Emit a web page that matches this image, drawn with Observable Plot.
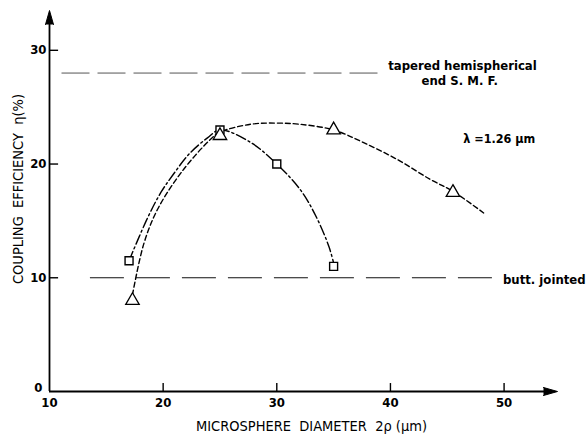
<!DOCTYPE html>
<html>
<head>
<meta charset="utf-8">
<script src="https://cdn.jsdelivr.net/npm/d3@7"></script>
<script src="https://cdn.jsdelivr.net/npm/@observablehq/plot@0.6"></script>
<style>
  html, body { margin: 0; padding: 0; background: #fff; }
  svg { display: block; }
</style>
</head>
<body>
<div id="chart"></div>
<script>
// ---- data ----
const xTicks = [10, 20, 30, 40, 50];
const yTicks = [0, 10, 20, 30];

// measured points (squares / triangles)
const sqD   = [17, 25, 30, 35];
const sqEta = [11.5, 23, 20, 11];
const triD   = [17.3, 25, 35, 45.5];
const triEta = [8, 22.5, 23, 17.5];

// hand-drawn fitted curves
const sqCurveD   = [17, 18.6, 19.8, 20.9, 22.3, 23.9, 25, 27.7, 30, 32.1, 33.5, 34.6, 35];
const sqCurveEta = [11.5, 15.2, 17.5, 19.1, 20.9, 22.3, 23, 21.9, 20, 17.7, 15.3, 12.7, 11.3];
const triCurveD   = [17.3, 18.3, 19.5, 21.7, 24.2, 25, 27.7, 30, 32, 35, 37.6, 40.6, 43.5, 45.5, 48.2];
const triCurveEta = [8.5, 13, 16, 19.4, 22.2, 22.8, 23.5, 23.6, 23.5, 23, 21.9, 20.4, 18.65, 17.6, 15.7];

// horizontal reference levels
const taperedEta = 28, taperedFrom = 11.1, taperedTo = 39.4;
const buttEta = 10, buttFrom = 13.6, buttTo = 49.9;

const xLabel = "MICROSPHERE  DIAMETER  2ρ (μm)";
const yLabel = "COUPLING  EFFICIENCY  η(%)";

// ---- build ----
const font = "DejaVu Sans Condensed";
const sq = sqD.map((d, i) => ({d, eta: sqEta[i]}));
const tri = triD.map((d, i) => ({d, eta: triEta[i]}));
const sqCurve = sqCurveD.map((d, i) => ({d, eta: sqCurveEta[i]}));
const triCurve = triCurveD.map((d, i) => ({d, eta: triCurveEta[i]}));

const txt = {fontFamily: font, fontWeight: "bold", fill: "#000"};

const chart = Plot.plot({
  width: 588,
  height: 434,
  marginLeft: 49,
  marginRight: 31,
  marginTop: 10,
  marginBottom: 43,
  style: {fontFamily: font, background: "#fff", color: "#000"},
  x: {domain: [10, 54.7]},
  y: {domain: [0, 33.5]},
  marks: [
    // reference lines
    Plot.ruleY([taperedEta], {x1: taperedFrom, x2: taperedTo, stroke: "#555", strokeWidth: 1, strokeDasharray: "28,8"}),
    Plot.ruleY([buttEta], {x1: buttFrom, x2: buttTo, stroke: "#111", strokeWidth: 1.1, strokeDasharray: "34,12"}),
    // curves
    Plot.line(sqCurve, {x: "d", y: "eta", curve: "catmull-rom", stroke: "#000", strokeWidth: 1.4, strokeDasharray: "10,3,2,3"}),
    Plot.line(triCurve, {x: "d", y: "eta", curve: "catmull-rom", stroke: "#000", strokeWidth: 1.4, strokeDasharray: "5,3"}),
    // markers
    Plot.dot(sq, {x: "d", y: "eta", symbol: "square", r: 4.5, fill: "#fff", stroke: "#000", strokeWidth: 1.4}),
    Plot.dot(tri, {x: "d", y: "eta", symbol: "triangle", r: 5, fill: "#fff", stroke: "#000", strokeWidth: 1.3}),
    // axes lines
    Plot.ruleY([0], {x1: 10, x2: 54, stroke: "#000", strokeWidth: 1.8}),
    Plot.ruleX([10], {y1: 0, y2: 33, stroke: "#000", strokeWidth: 1.8}),
    Plot.vector([{x: 54.7, y: 0, rot: 90}, {x: 10, y: 33.5, rot: 0}], {
      x: "x", y: "y", rotate: "rot", length: 14, r: 4, shape: "spike", anchor: "end",
      fill: "#000", stroke: "#000", strokeWidth: 1
    }),
    // inward ticks
    Plot.ruleX(xTicks.filter(v => v > 10), {y1: 0, y2: 0.7, stroke: "#000", strokeWidth: 1.4}),
    Plot.ruleY(yTicks.filter(v => v > 0), {x1: 10, x2: 10.8, stroke: "#000", strokeWidth: 1.4}),
    // tick labels
    Plot.axisX({ticks: xTicks, tickSize: 0, tickPadding: 6, fontSize: 13, ...txt, label: null}),
    Plot.axisY({ticks: yTicks.filter(v => v > 0), tickSize: 0, tickPadding: 3, fontSize: 13, ...txt, label: null}),
    Plot.axisY({ticks: yTicks.filter(v => v === 0), tickSize: 0, tickPadding: 7, dy: -4, fontSize: 13, ...txt, label: null}),
    // axis titles
    Plot.text([xLabel], {frameAnchor: "bottom", dx: 8, dy: 39, fontSize: 14.5, ...txt, fontWeight: "normal"}),
    Plot.text([yLabel], {frameAnchor: "left", textAnchor: "middle", dx: -31, dy: -12, rotate: -90, fontSize: 14.5, ...txt, fontWeight: "normal"}),
    // annotations
    Plot.text(["tapered hemispherical"], {x: 39.8, y: 28.65, textAnchor: "start", fontSize: 13, ...txt}),
    Plot.text(["end S. M. F."], {x: 46.1, y: 27.3, textAnchor: "middle", fontSize: 13, ...txt}),
    Plot.text(["λ =1.26 μm"], {x: 46.4, y: 22.2, textAnchor: "start", fontSize: 12.5, ...txt}),
    Plot.text(["butt. jointed"], {x: 49.9, y: 9.85, textAnchor: "start", fontSize: 13, ...txt})
  ]
});
document.getElementById("chart").appendChild(chart);
</script>
</body>
</html>
